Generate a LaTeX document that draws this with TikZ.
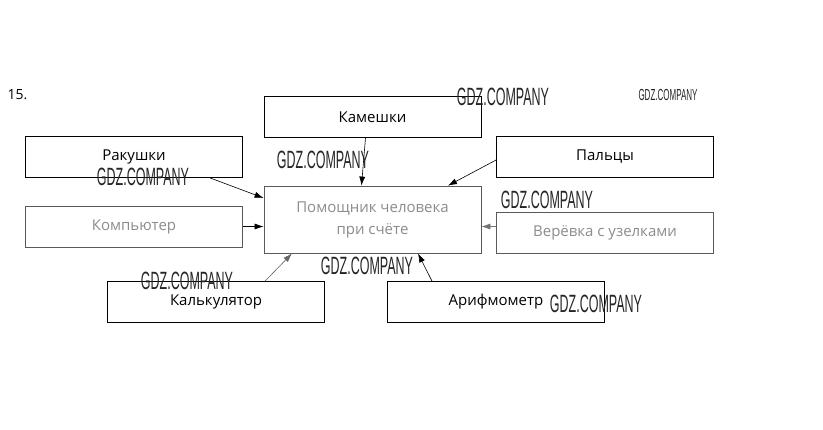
\documentclass[tikz,border=0pt]{standalone}
\usepackage{fontspec}
\setmainfont{Open Sans}
\newfontfamily\wmfont{Liberation Sans}
\usepackage{tikz}
\usetikzlibrary{arrows.meta}
\newcommand\wmark[3]{\node[wmark,#3] (#1) at (#2) {GDZ.COMPANY};}

\begin{document}
\begin{tikzpicture}[x=1pt,y=-1pt]
\tikzstyle{box}=[draw,thick,minimum width=217pt,minimum height=41pt,inner sep=0pt,font=\fontsize{15}{18}\selectfont]
\tikzstyle{faded}=[draw=black!65,text=black!45]
\tikzstyle{arr}=[draw,-{Latex[length=9pt,width=6pt]},semithick]
\tikzstyle{wmark}=[inner sep=0pt,xscale=0.5,text=black!85,font=\wmfont\fontsize{25}{25}\selectfont]
\useasboundingbox[fill=white] (0,0) rectangle (823,429);

\node[anchor=west,font=\fontsize{14}{17}\selectfont] (num) at (4,95) {15.};

\node[box] (kam) at (372.5,117) {Камешки};
\node[box] (rak) at (134,157) {Ракушки};
\node[box] (palcy) at (605,157) {Пальцы};
\node[box,faded,minimum height=67pt,align=center] (help) at (372.5,219.5)
  {Помощник человека\\[4pt]при счёте};
\node[box,faded] (comp) at (134,226.5) {Компьютер};
\node[box,faded] (rope) at (605,232.5) {Верёвка с узелками};
\node[box] (calc) at (216,302) {Калькулятор};
\node[box] (arif) at (496,302) {Арифмометр};

% watermarks
\wmark{wm1}{503,97}{}
\wmark{wm2}{668,95}{font=\wmfont\fontsize{16}{16}\selectfont}
\wmark{wm3}{323,160}{}
\wmark{wm4}{143,177}{}
\wmark{wm5}{547,200}{}
\wmark{wm6}{187,281}{}
\wmark{wm7}{367,266}{}
\wmark{wm8}{596,304}{}

% arrows
\path[arr] ([xshift=-7pt]kam.south) -- ([xshift=-11pt]help.north);
\path[arr] ([yshift=-3pt]palcy.west) -- ([xshift=75.5pt]help.north);
\path[arr] ([xshift=76pt]rak.south) -- ([yshift=21.5pt]help.west);
\path[arr] (comp.east) -- (comp.east -| help.west);
\path[arr,draw=black!55] ([yshift=6pt]rope.west) -- ([yshift=6pt]rope.west -| help.east);
\path[arr,draw=black!60] ([xshift=49pt]calc.north) -- ([xshift=-80.5pt]help.south);
\path[arr] ([xshift=-64pt]arif.north) -- ([xshift=45.5pt]help.south);
\end{tikzpicture}
\end{document}
